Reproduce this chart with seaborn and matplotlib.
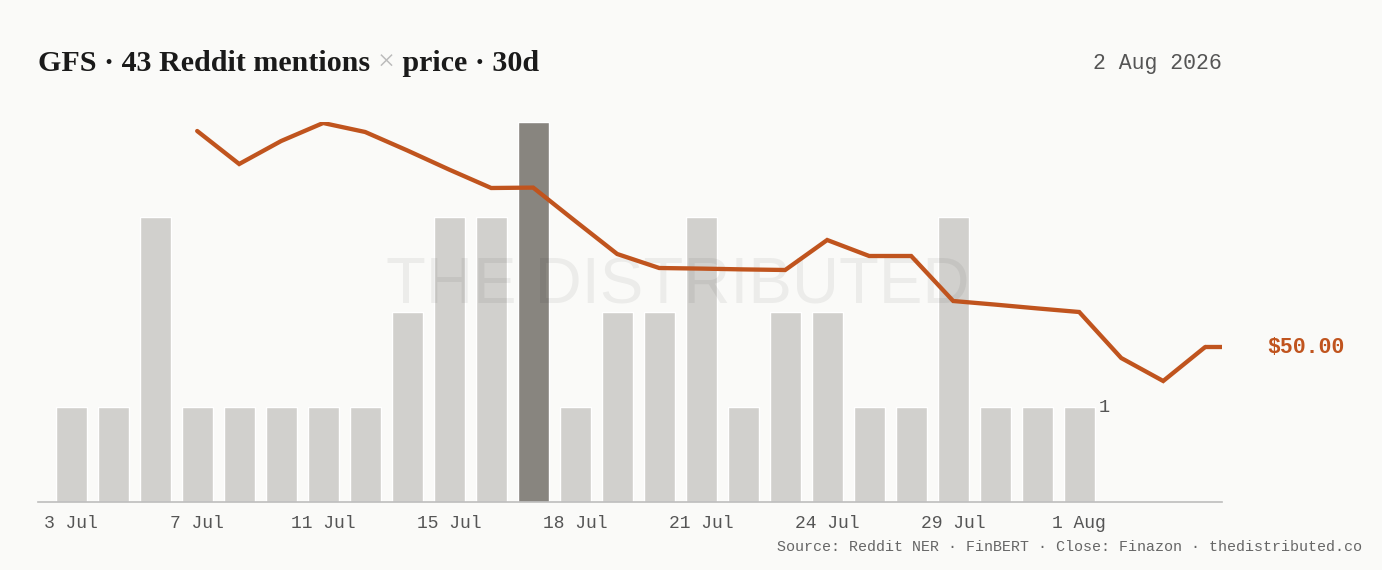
import matplotlib
matplotlib.use("Agg")
import matplotlib.pyplot as plt
import numpy as np
import pandas as pd
import seaborn as sns

# session slots (only every third one gets a label)
days = [
    "3 Jul", "5 Jul", "6 Jul", "7 Jul", "8 Jul", "10 Jul", "11 Jul", "12 Jul",
    "14 Jul", "15 Jul", "16 Jul", "17 Jul", "18 Jul", "19 Jul", "20 Jul", "21 Jul",
    "22 Jul", "23 Jul", "24 Jul", "25 Jul", "28 Jul", "29 Jul", "30 Jul", "31 Jul",
    "1 Aug", "2 Aug", "3 Aug", "4 Aug",
]
mentions = [1, 1, 3, 1, 1, 1, 1, 1, 2, 3, 3, 4, 1, 2, 2, 3, 1, 2, 2, 1, 1, 3, 1, 1, 1,
            np.nan, np.nan, np.nan]
close = [np.nan, np.nan, np.nan, 60.80, 59.15, 60.30, 61.20, 60.75, 59.83, 58.87,
         57.95, 57.97, 56.30, 54.65, 53.95, 53.92, 53.88, 53.85, 55.35, 54.55, 54.55,
         52.30, 52.12, 51.93, 51.75, 49.45, 48.30, 50.00]
peak_day = "17 Jul"
tick_days = ["3 Jul", "7 Jul", "11 Jul", "15 Jul", "18 Jul", "21 Jul", "24 Jul", "29 Jul", "1 Aug"]

title_parts = ["GFS · 43 Reddit mentions ", "×", " price · 30d"]
date_label = "2 Aug 2026"
source = "Source: Reddit NER · FinBERT · Close: Finazon · thedistributed.co"

BG = "#FAFAF8"
BAR = "#D2D0CC"
BAR_PEAK = "#8A857D"
LINE = "#C0541E"
GREY = "#555555"
MONO = "Liberation Mono"

df = pd.DataFrame({"day": days, "mentions": mentions, "close": close})
df["pos"] = np.arange(len(df))
df["peak"] = np.where(df["day"] == peak_day, "peak", "normal")

sns.set_style("white")
plt.rcParams["font.family"] = ["DejaVu Sans"]

fig = plt.figure(figsize=(13.82, 5.70), dpi=100, facecolor=BG)
ax = fig.add_axes([38 / 1382, 68 / 570, 1184 / 1382, 380 / 570])
ax.set_facecolor(BG)

sns.barplot(data=df, x="day", y="mentions", hue="peak", order=days,
            palette={"normal": BAR, "peak": BAR_PEAK}, dodge=False,
            width=0.73, legend=False, ax=ax, zorder=1)
ax.set_xlim(-0.79, len(days) - 0.6)
ax.set_ylim(0, 4)
ax.set_xlabel("")
ax.set_ylabel("")
ax.set_yticks([])
ax.set_xticks([days.index(d) for d in tick_days])
ax.set_xticklabels(tick_days, family=MONO, fontsize=13, color=GREY)
ax.tick_params(axis="x", length=0, pad=9)
for side in ["top", "right", "left"]:
    ax.spines[side].set_visible(False)
ax.spines["bottom"].set_color("#BDBDBD")
ax.spines["bottom"].set_linewidth(1.2)

last_bar = df["mentions"].last_valid_index()
ax.annotate("1", xy=(df.loc[last_bar, "pos"] + 0.36, 1), xytext=(4, 0),
            textcoords="offset pixels", va="center", ha="left",
            family=MONO, fontsize=13.5, color=GREY)

# watermark
ax.text(386 / 1382, 1 - 286 / 570, "THE DISTRIBUTED", transform=fig.transFigure,
        family="Liberation Sans", fontsize=47, color="black", alpha=0.055,
        ha="left", va="center", zorder=3)

ax2 = ax.twinx()
sns.lineplot(data=df, x="pos", y="close", color=LINE, linewidth=3.1, ax=ax2,
             solid_joinstyle="miter", zorder=4)
x_end = ax.get_xlim()[1]
ax2.hlines(df["close"].iloc[-1], df["pos"].iloc[-1], x_end, color=LINE, linewidth=3.1)
ax2.set_xlim(ax.get_xlim())
ax2.set_ylim(42.25, 61.25)
ax2.set_yticks([])
ax2.set_xlabel("")
ax2.set_ylabel("")
for side in ["top", "right", "left", "bottom"]:
    ax2.spines[side].set_visible(False)
ax2.annotate(f"${df['close'].iloc[-1]:.2f}", xy=(1, df["close"].iloc[-1]),
             xycoords=("axes fraction", "data"), xytext=(45, -1),
             textcoords="offset pixels", va="center", ha="left",
             family=MONO, fontsize=15.5, fontweight="bold", color=LINE)

# title in pieces so the multiplication sign can be lighter
fig.canvas.draw()
renderer = fig.canvas.get_renderer()
x = 38 / 1382
title_colors = ["#1A1A1A", "#BBBBBB", "#1A1A1A"]
title_weights = ["bold", "normal", "bold"]
for part, col, wt in zip(title_parts, title_colors, title_weights):
    t = fig.text(x, 1 - 71 / 570, part, family="Liberation Serif", fontsize=21.6,
                 fontweight=wt, color=col, ha="left", va="baseline")
    bb = t.get_window_extent(renderer)
    x += bb.width / fig.bbox.width

fig.text(1222 / 1382, 1 - 63 / 570, date_label, family=MONO, fontsize=15.5,
         color=GREY, ha="right", va="center")
fig.text(1362 / 1382, 1 - 547 / 570, source, family=MONO, fontsize=10.8,
         color="#666666", ha="right", va="center")

fig.savefig("out.png", dpi=100, facecolor=BG)
